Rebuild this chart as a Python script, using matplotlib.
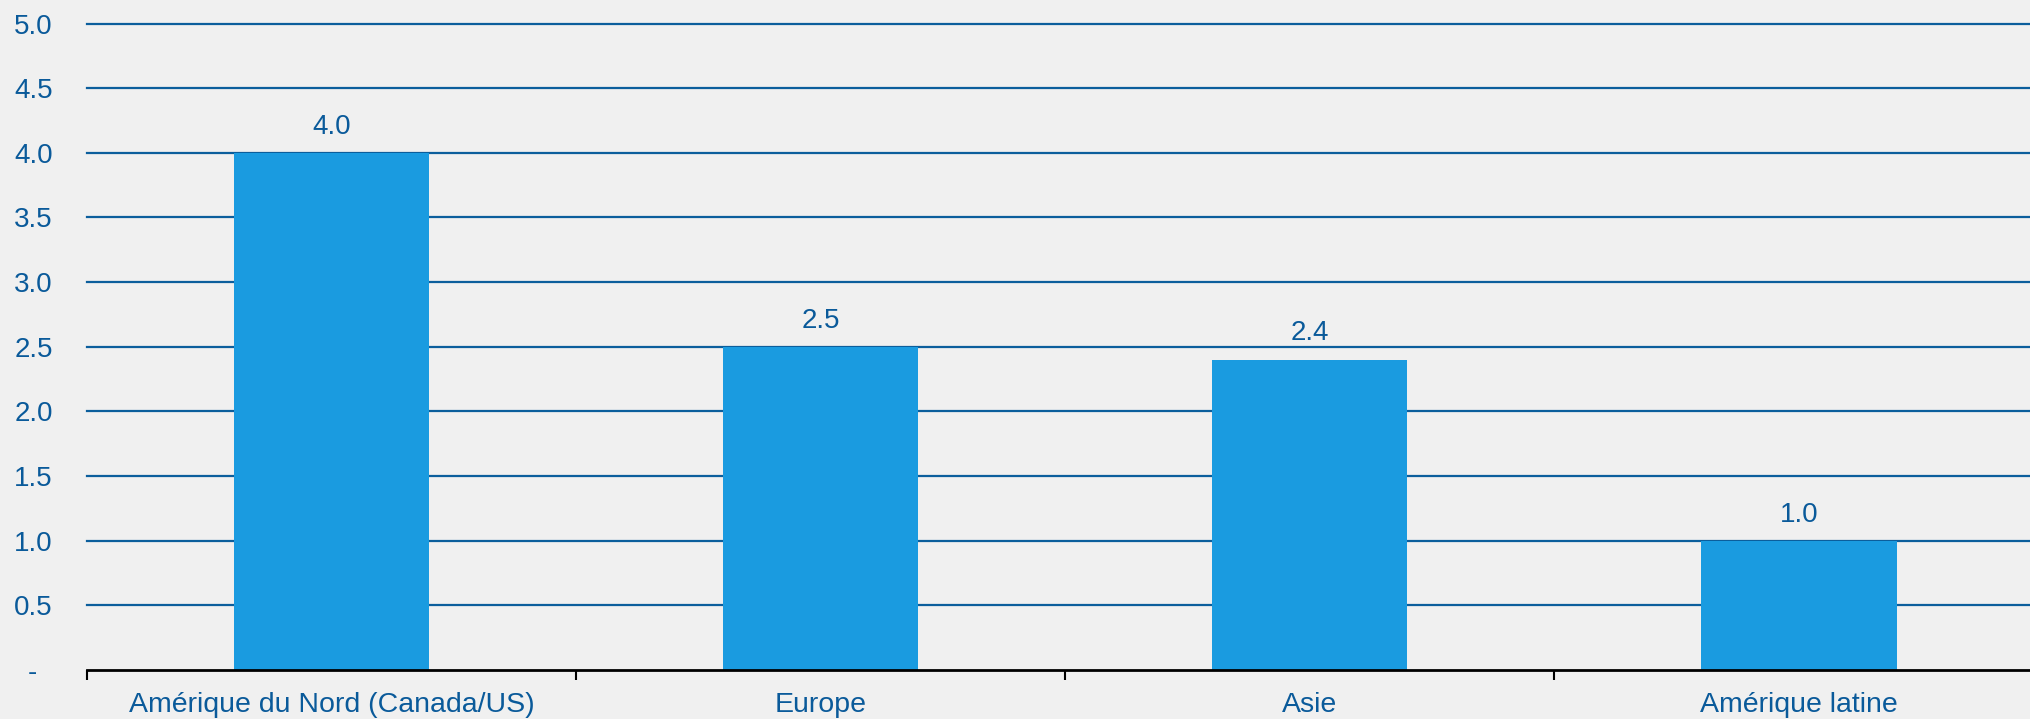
import matplotlib
matplotlib.use("Agg")
import matplotlib.pyplot as plt
from matplotlib.ticker import FixedLocator

# Data
categories = ["Amérique du Nord (Canada/US)", "Europe", "Asie", "Amérique latine"]
values = [4.0, 2.5, 2.4, 1.0]
y_ticks = [0.0, 0.5, 1.0, 1.5, 2.0, 2.5, 3.0, 3.5, 4.0, 4.5, 5.0]
y_tick_labels = ["-  ", "0.5", "1.0", "1.5", "2.0", "2.5", "3.0", "3.5", "4.0", "4.5", "5.0"]

BG = "#f0f0f0"
BAR = "#1a9be0"
GRID = "#0b5e9c"
TEXT = "#0a5a9a"

plt.rcParams["font.family"] = ["Liberation Sans", "DejaVu Sans"]

fig = plt.figure(figsize=(20.31, 7.19), dpi=100, facecolor=BG)
ax = fig.add_axes([87 / 2031, (719 - 670) / 719, 1 - 87 / 2031, (670 - 23.5) / 719])
ax.set_facecolor(BG)

x = list(range(len(categories)))
ax.bar(x, values, width=0.4, color=BAR, zorder=3)

ax.set_xlim(-0.5, 3.475)
ax.set_ylim(0, 5.0)

# Horizontal gridlines
for t in y_ticks[1:]:
    ax.axhline(t, color=GRID, lw=1.6, zorder=1, clip_on=False)

ax.set_yticks(y_ticks)
ax.set_yticklabels(y_tick_labels)
ax.tick_params(axis="y", length=0, pad=24.5, labelsize=20, labelcolor=TEXT)

# Category ticks at group boundaries, labels at centers
ax.xaxis.set_major_locator(FixedLocator([-0.5, 0.5, 1.5, 2.5, 3.5]))
ax.xaxis.set_major_formatter(plt.NullFormatter())
ax.xaxis.set_minor_locator(FixedLocator(x))
ax.set_xticklabels(categories, minor=True)
ax.tick_params(axis="x", which="major", length=7, width=1.5, color="black", direction="out")
ax.tick_params(axis="x", which="minor", length=0, pad=16, labelsize=20.5, labelcolor=TEXT)

for side in ["top", "right", "left"]:
    ax.spines[side].set_visible(False)
ax.spines["bottom"].set_color("black")
ax.spines["bottom"].set_linewidth(2)
ax.spines["bottom"].set_zorder(4)

for xi, v in zip(x, values):
    ax.annotate(f"{v:.1f}", (xi, v), xytext=(0, 9.5), textcoords="offset points",
                ha="center", va="bottom", fontsize=20, color=TEXT)

fig.savefig("out.png", dpi=100, facecolor=BG)
